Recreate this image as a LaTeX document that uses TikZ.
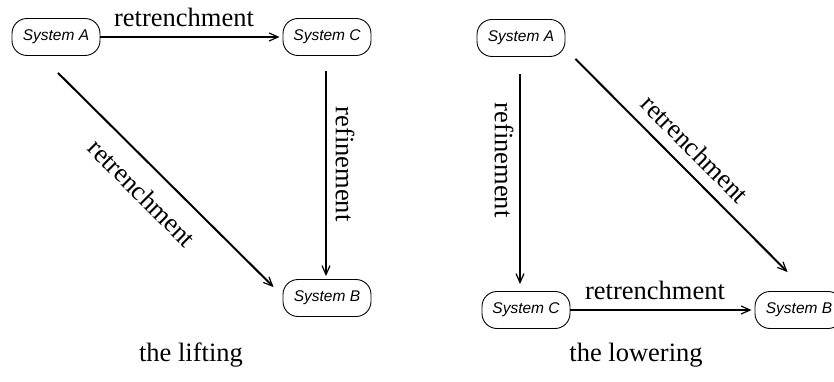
\documentclass[tikz,border=0pt]{standalone}
\usepackage{fontspec}
\setmainfont{Liberation Serif}
\newfontfamily\sysfont{Liberation Sans}
\usetikzlibrary{arrows.meta,calc}
\tikzset{
  sysbox/.style={draw, line width=0.9pt, rounded corners=15pt,
    minimum width=88pt, minimum height=37pt, inner sep=0pt,
    font=\sysfont\itshape\fontsize{15.5}{17}\selectfont},
  lbl/.style={font=\fontsize{26.5}{29}\selectfont, inner sep=0pt},
  arr/.style={line width=1.4pt, -{Straight Barb[length=9pt,width=8pt,line width=1.2pt]}},
  diag/.style={arr, line width=2pt}
}
\begin{document}
\begin{tikzpicture}[x=1pt,y=-1pt]
\useasboundingbox (0,0) rectangle (834,382);
\fill[white] (0,0) rectangle (834,382);

% the lifting
\node[sysbox] (A1) at (56,37) {System A};
\node[sysbox] (C1) at (327,37) {System C};
\node[sysbox] (B1) at (327,298) {System B};
\draw[arr] (A1.east) -- ($(C1.west)+(-3,0)$);
\draw[arr, line width=1.2pt] ($(C1.south)+(-1,15)$) -- ($(B1.north)+(-1,-3)$);
\draw[diag] ($(A1.south)+(2,17)$) -- ($(B1.north west)+(-9,8)$);
\node[lbl, anchor=base] (l1) at (184,27) {retrenchment};
\node[lbl, rotate=-90] (l2) at (345,164) {refinement};
\node[lbl, rotate=-45] (l3) at (142,193) {retrenchment};
\node[lbl] (t1) at (191,355) {the lifting};

% the lowering
\node[sysbox] (A2) at (521,38) {System A};
\node[sysbox] (C2) at (526,310) {System C};
\node[sysbox] (B2) at (799,310) {System B};
\draw[arr, line width=1.2pt] ($(A2.south)+(-1,17)$) -- ($(C2.north)+(-6,-7)$);
\draw[diag] ($(A2.south east)+(10,2)$) -- ($(B2.north west)+(33,-19)$);
\draw[arr] (C2.east) -- ($(B2.west)+(-3,0)$);
\node[lbl, rotate=-90] (l4) at (504,160) {refinement};
\node[lbl, rotate=-45] (l5) at (695,149) {retrenchment};
\node[lbl, anchor=base] (l6) at (655,299) {retrenchment};
\node[lbl] (t2) at (636,355) {the lowering};
\end{tikzpicture}
\end{document}
